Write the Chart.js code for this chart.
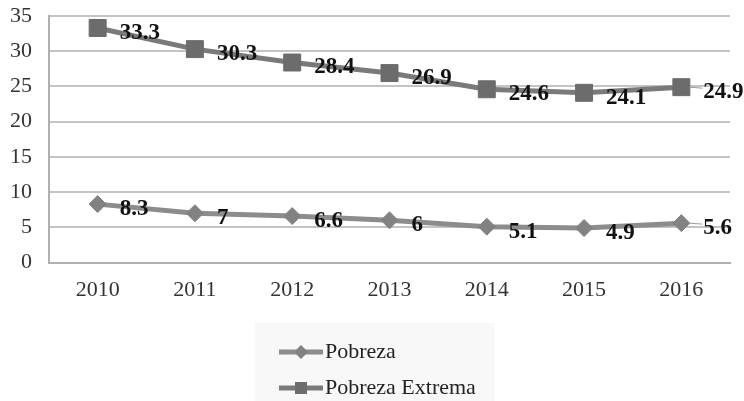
<!DOCTYPE html>
<html>
<head>
<meta charset="utf-8">
<script src="https://cdn.jsdelivr.net/npm/chart.js@4/dist/chart.umd.min.js"></script>
<style>
  html, body { margin: 0; padding: 0; background: #fff; }
  #wrap { width: 744px; height: 401px; position: relative; }
</style>
</head>
<body>
<div id="wrap"><canvas id="c" width="744" height="401"></canvas></div>
<script>
const years = ['2010', '2011', '2012', '2013', '2014', '2015', '2016'];
const pobreza = [8.3, 7, 6.6, 6, 5.1, 4.9, 5.6];
const pobrezaExtrema = [33.3, 30.3, 28.4, 26.9, 24.6, 24.1, 24.9];
const seriesNames = ['Pobreza', 'Pobreza Extrema'];

const SERIF = '"Liberation Serif", "DejaVu Serif", serif';

// value labels to the right of each point (last one gets a short leader line)
const valueLabels = {
  id: 'valueLabels',
  afterDatasetsDraw(chart) {
    const ctx = chart.ctx;
    ctx.save();
    ctx.font = 'bold 23px ' + SERIF;
    ctx.textAlign = 'left';
    ctx.textBaseline = 'middle';
    chart.data.datasets.forEach((ds, i) => {
      const pts = chart.getDatasetMeta(i).data;
      pts.forEach((pt, j) => {
        if (j === pts.length - 1) {
          ctx.strokeStyle = '#9a9a9a';
          ctx.lineWidth = 1;
          ctx.beginPath();
          ctx.moveTo(pt.x + 8, pt.y);
          ctx.lineTo(pt.x + 21, pt.y + 1);
          ctx.stroke();
        }
        ctx.fillStyle = '#111';
        ctx.fillText(String(ds.data[j]), pt.x + 22, pt.y + 5);
      });
    });
    ctx.restore();
  }
};

// boxed legend below the plot: line + marker + name, stacked
const boxLegend = {
  id: 'boxLegend',
  afterDraw(chart) {
    const ctx = chart.ctx;
    ctx.save();
    ctx.fillStyle = '#f8f8f8';
    ctx.fillRect(255, 323, 240, 78);
    const rows = [352, 388];
    chart.data.datasets.forEach((ds, i) => {
      const y = rows[i];
      ctx.strokeStyle = ds.borderColor;
      ctx.lineWidth = 5;
      ctx.beginPath();
      ctx.moveTo(279, y);
      ctx.lineTo(323, y);
      ctx.stroke();
      ctx.fillStyle = ds.pointBackgroundColor;
      ctx.beginPath();
      if (ds.pointStyle === 'rect') {
        ctx.rect(295, y - 6, 12, 12);
      } else {
        ctx.moveTo(301, y - 7);
        ctx.lineTo(308, y);
        ctx.lineTo(301, y + 7);
        ctx.lineTo(294, y);
        ctx.closePath();
      }
      ctx.fill();
      ctx.fillStyle = '#222';
      ctx.font = '22px ' + SERIF;
      ctx.textAlign = 'left';
      ctx.textBaseline = 'middle';
      ctx.fillText(ds.label, 325, y);
    });
    ctx.restore();
  }
};

new Chart(document.getElementById('c'), {
  type: 'line',
  data: {
    labels: years,
    datasets: [
      {
        label: seriesNames[0],
        data: pobreza,
        borderColor: '#8c8c8c',
        borderWidth: 5,
        pointStyle: 'rectRot',
        pointRadius: 8.5,
        pointBackgroundColor: '#828282',
        pointBorderColor: '#828282',
        pointBorderWidth: 1,
        tension: 0
      },
      {
        label: seriesNames[1],
        data: pobrezaExtrema,
        borderColor: '#7a7a7a',
        borderWidth: 5,
        pointStyle: 'rect',
        pointRadius: 12,
        pointBackgroundColor: '#6c6c6c',
        pointBorderColor: '#6c6c6c',
        pointBorderWidth: 1,
        tension: 0
      }
    ]
  },
  options: {
    responsive: false,
    animation: false,
    layout: { padding: { left: 6, right: 14, top: 16, bottom: 84 } },
    plugins: {
      legend: { display: false },
      tooltip: { enabled: false }
    },
    scales: {
      x: {
        offset: true,
        grid: { display: false, drawTicks: false },
        border: { display: true, color: '#b0b0b0', width: 2 },
        ticks: { color: '#333', font: { family: SERIF, size: 22 }, padding: 14 }
      },
      y: {
        min: 0,
        max: 35,
        afterFit(scale) {
          scale.width = 43;
          scale.paddingTop = 0;
          scale.paddingBottom = 0;
        },
        ticks: { stepSize: 5, color: '#333', font: { family: SERIF, size: 22 }, padding: 17 },
        grid: { color: '#c4c4c4', lineWidth: 2, drawTicks: false },
        border: { display: true, color: '#b0b0b0', width: 2 }
      }
    }
  },
  plugins: [valueLabels, boxLegend]
});
</script>
</body>
</html>
